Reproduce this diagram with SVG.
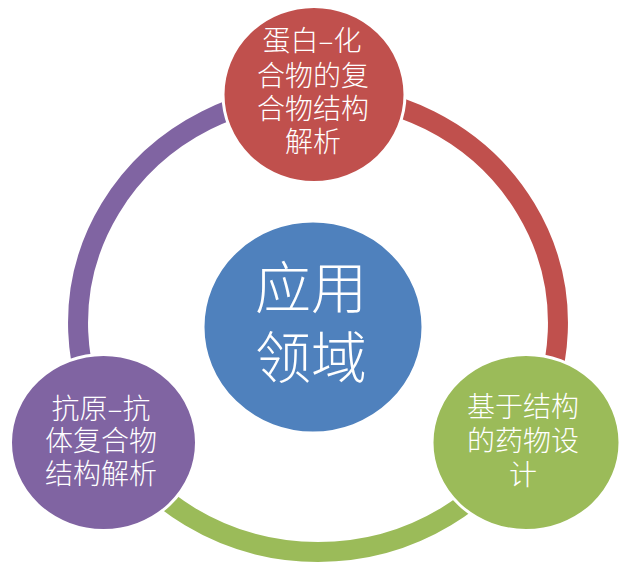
<svg xmlns="http://www.w3.org/2000/svg" width="640" height="580" viewBox="0 0 640 580">
  <style>
    .arc { fill: none; stroke-width: 20; }
    .node { stroke: #ffffff; stroke-width: 3; }
    .lbl { font-family: "Noto Sans CJK SC", "Noto Sans", sans-serif; font-size: 28px; font-weight: 300; fill: #ffffff; text-anchor: middle; }
    .big { font-size: 56px; }
  </style>
  <rect width="640" height="580" fill="#ffffff"/>
  <g id="connectors">
    <path class="arc" stroke="#C0504D" d="M 318 94 A 240 229 0 0 1 525.8 437.5"/>
    <path class="arc" stroke="#9BBB59" d="M 525.8 437.5 A 240 229 0 0 1 110.2 437.5"/>
    <path class="arc" stroke="#8064A2" d="M 110.2 437.5 A 240 229 0 0 1 318 94"/>
  </g>
  <g id="center">
    <ellipse class="node" cx="313" cy="327" rx="110" ry="106" fill="#4F81BD"/>
    <text class="lbl big" x="311" y="308">应用</text>
    <text class="lbl big" x="311" y="378">领域</text>
  </g>
  <g id="node-protein">
    <ellipse class="node" cx="314" cy="94.5" rx="91" ry="88" fill="#C0504D"/>
    <text class="lbl" x="312" y="51">蛋白–化</text>
    <text class="lbl" x="313" y="86">合物的复</text>
    <text class="lbl" x="313" y="119">合物结构</text>
    <text class="lbl" x="313" y="152">解析</text>
  </g>
  <g id="node-drug">
    <ellipse class="node" cx="526" cy="442.5" rx="94" ry="88" fill="#9BBB59"/>
    <text class="lbl" x="523" y="417">基于结构</text>
    <text class="lbl" x="523" y="451">的药物设</text>
    <text class="lbl" x="523" y="485">计</text>
  </g>
  <g id="node-antigen">
    <ellipse class="node" cx="103.5" cy="442.5" rx="93" ry="88" fill="#8064A2"/>
    <text class="lbl" x="101" y="419">抗原–抗</text>
    <text class="lbl" x="101" y="451">体复合物</text>
    <text class="lbl" x="101" y="484">结构解析</text>
  </g>
</svg>
